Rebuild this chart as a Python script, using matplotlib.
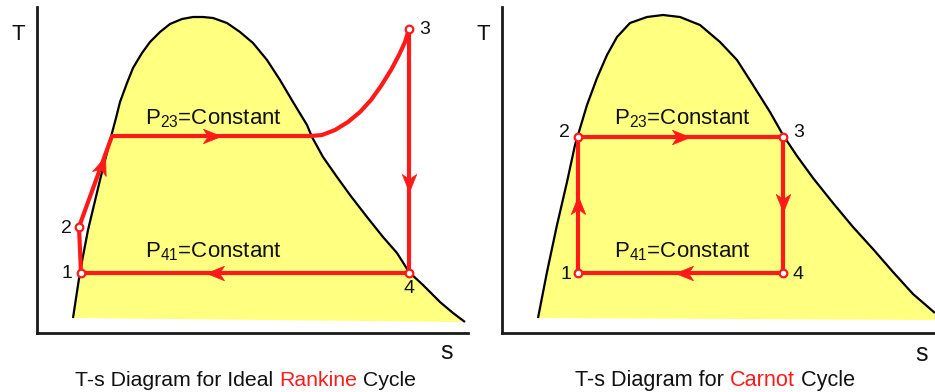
import numpy as np
import matplotlib
matplotlib.use("Agg")
import matplotlib.pyplot as plt
from matplotlib.path import Path
from matplotlib.markers import MarkerStyle
from matplotlib.transforms import Affine2D

plt.rcParams['font.family'] = ['Liberation Sans', 'DejaVu Sans']
plt.rcParams['mathtext.fontset'] = 'custom'
plt.rcParams['mathtext.rm'] = 'Liberation Sans'
plt.rcParams['mathtext.it'] = 'Liberation Sans:italic'
plt.rcParams['mathtext.bf'] = 'Liberation Sans:bold'

# ---------------- data ----------------
# saturation dome (entropy s, temperature T) - Rankine panel
rk_dome_s = [36, 43, 51, 63, 75, 79, 83, 90, 96, 105, 113, 123, 133, 145, 156, 166,
             176, 190, 203, 216, 230, 243, 256, 270, 275, 286, 300, 313, 330, 346,
             360, 372, 386, 403, 416, 428]
rk_dome_T = [15, 61, 103, 153, 200, 215, 231, 250, 265, 280, 291, 301, 309, 314, 316,
             316, 315, 310, 301, 290, 273, 253, 231, 208, 196, 176, 156, 138, 116, 96,
             80, 61, 48, 31, 20, 11]
# saturation dome - Carnot panel
cn_dome_s = [36, 45, 55, 65, 73, 76, 85, 95, 105, 115, 128, 145, 161, 178, 198, 218,
             235, 251, 268, 281, 295, 311, 331, 351, 371, 391, 411, 433]
cn_dome_T = [15, 61, 108, 151, 188, 198, 228, 255, 278, 296, 310, 316, 318, 316, 308,
             291, 273, 248, 221, 198, 177, 155, 130, 106, 84, 61, 39, 20]
cn_base_s = [433, 36]
cn_base_T = [13, 15]

# Rankine cycle path 1 -> 2 -> boiler -> superheat -> 3 -> 4 -> 1
rk_cycle_s = [44, 42, 75, 274, 285, 298, 311, 323, 334, 344, 354, 362, 368, 372, 372, 44]
rk_cycle_T = [60, 106, 197, 197, 198, 203, 211, 221, 233, 247, 263, 278, 291, 304, 60, 60]
rk_state_labels = ['1', '2', '3', '4']
rk_state_s = [44, 42, 372, 372]
rk_state_T = [60, 106, 304, 60]
rk_arrow_s = [65, 175, 372, 178]
rk_arrow_T = [168, 197, 150, 60]
rk_arrow_ang = [70, 0, -90, 180]

# Carnot cycle 1 -> 2 -> 3 -> 4 -> 1
cn_cycle_s = [76, 76, 281, 281, 76]
cn_cycle_T = [60, 196, 196, 60, 60]
cn_state_labels = ['1', '2', '3', '4']
cn_state_s = [76, 76, 281, 281]
cn_state_T = [60, 196, 196, 60]
cn_arrow_s = [76, 179, 281, 182]
cn_arrow_T = [128, 196, 130, 60]
cn_arrow_ang = [90, 0, -90, 180]

p23_text = 'P$_{23}$=Constant'
p41_text = 'P$_{41}$=Constant'
titles = [('T-s Diagram for Ideal ', 'Rankine', ' Cycle'),
          ('T-s Diagram for ', 'Carnot', ' Cycle')]

# ---------------- style ----------------
RED = '#ff1a1a'
YELLOW = '#ffff80'
INK = '#111111'
W, H = 935, 392

fig = plt.figure(figsize=(W / 100, H / 100), dpi=100)

head = Path([(1, 0), (-1, 0.8), (-0.45, 0), (-1, -0.8), (1, 0)],
            [Path.MOVETO, Path.LINETO, Path.LINETO, Path.LINETO, Path.CLOSEPOLY])


def make_axes(x0, width):
    ax = fig.add_axes([x0 / W, 59 / H, width / W, 326 / H])
    ax.set_xlim(0, width)
    ax.set_ylim(0, 326)
    for sp in ['top', 'right']:
        ax.spines[sp].set_visible(False)
    for sp in ['left', 'bottom']:
        ax.spines[sp].set_linewidth(2.0)
        ax.spines[sp].set_color('#1a1a1a')
    ax.set_xticks([])
    ax.set_yticks([])
    ax.patch.set_alpha(0)
    return ax


def draw_panel(ax, dome_s, dome_T, base_s, base_T, cyc_s, cyc_T, st_s, st_T, st_lab,
               lab_off, ar_s, ar_T, ar_ang, p23_xy, p41_xy):
    ax.fill(list(dome_s) + list(base_s), list(dome_T) + list(base_T),
            color=YELLOW, lw=0, zorder=1)
    ax.plot(dome_s, dome_T, color='black', lw=1.6, zorder=2, solid_capstyle='butt',
            solid_joinstyle='round')
    ax.plot(cyc_s, cyc_T, color=RED, lw=3.0, zorder=3, solid_joinstyle='round')
    for s, T, a in zip(ar_s, ar_T, ar_ang):
        m = MarkerStyle(head, transform=Affine2D().rotate_deg(a))
        ax.plot([s], [T], marker=m, ms=13, color=RED, mec=RED, mew=0.5,
                ls='none', zorder=5)
    ax.plot(st_s, st_T, 'o', ms=5.5, mfc='white', mec=RED, mew=1.6, zorder=6)
    for s, T, lab, off in zip(st_s, st_T, st_lab, lab_off):
        ax.annotate(lab, (s, T), xytext=off, textcoords='offset points',
                    ha='center', va='center', fontsize=14, color=INK,
                    annotation_clip=False)
    ax.text(p23_xy[0], p23_xy[1], p23_text, ha='center', va='baseline',
            fontsize=16, color=INK, zorder=4)
    ax.text(p41_xy[0], p41_xy[1], p41_text, ha='center', va='baseline',
            fontsize=16, color=INK, zorder=4)


ax1 = make_axes(37, 431)
draw_panel(ax1, rk_dome_s, rk_dome_T, [], [], rk_cycle_s, rk_cycle_T,
           rk_state_s, rk_state_T, rk_state_labels,
           [(-10, 0), (-9, -1), (11, 0), (0, -11)],
           rk_arrow_s, rk_arrow_T, rk_arrow_ang, (176, 209), (176, 76))

ax2 = make_axes(502, 433)
draw_panel(ax2, cn_dome_s, cn_dome_T, cn_base_s, cn_base_T, cn_cycle_s, cn_cycle_T,
           cn_state_s, cn_state_T, cn_state_labels,
           [(-9, -1), (-10, 3), (11, 3), (11, -1)],
           cn_arrow_s, cn_arrow_T, cn_arrow_ang, (180, 209), (180, 76))

# axis letters
for x, y in [(18, 35), (483, 34)]:
    fig.text(x / W, 1 - y / H, 'T', ha='center', va='center', fontsize=16,
             color=INK)
for x, y in [(447, 352), (922, 354)]:
    fig.text(x / W, 1 - y / H, 's', ha='center', va='center', fontsize=18,
             color=INK)

# multi-coloured captions
fig.canvas.draw()
renderer = fig.canvas.get_renderer()
for parts, x_start, fs in zip(titles, [75, 575], [15.3, 15.6]):
    x = x_start
    for i, part in enumerate(parts):
        col = RED if i == 1 else INK
        t = fig.text(x / W, 6 / H, part, ha='left', va='baseline', fontsize=fs,
                     color=col)
        bb = t.get_window_extent(renderer)
        x = bb.x1
fig.savefig('out.png', dpi=100)
